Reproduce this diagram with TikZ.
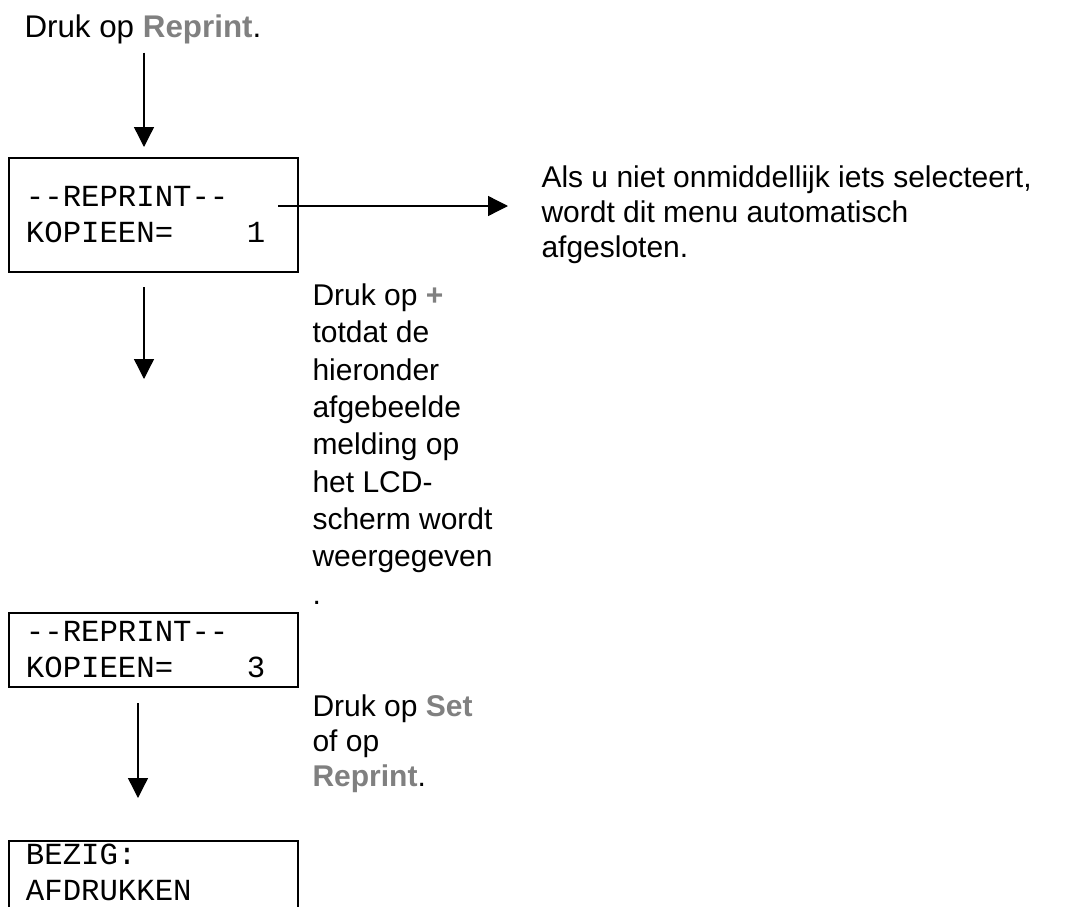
\documentclass[tikz,border=0pt]{standalone}
\usepackage{fontspec}
\setmainfont{Liberation Sans}
\setmonofont{Liberation Mono}
\usetikzlibrary{arrows.meta}
\definecolor{keygrey}{RGB}{128,128,128}
\newcommand{\btn}[1]{{\color{keygrey}\bfseries #1}}

\tikzset{every picture/.style={line width=0.75pt}}
\tikzset{
    lcd/.style={draw, line width=1.7pt, anchor=north west, outer sep=0pt, inner xsep=12.75pt, inner ysep=0pt, text width=191.25pt, align=left, font=\ttfamily\fontsize{23}{27}\selectfont},
    note/.style={anchor=base west, inner sep=0pt, align=left, font=\fontsize{22.5}{26.25}\selectfont},
    flow/.style={-{Triangle[length=15pt, width=15pt]}, line width=1pt}
}

\begin{document}
\begin{tikzpicture}[
            x=0.75pt,
            y=0.75pt,
            yscale=-1,
            xscale=1,
            every node/.style={text=black}
        ]
            \useasboundingbox (0,0) rectangle (1068,907);
            \clip (0,0) rectangle (1068,907);
            \node[note, font=\fontsize{23.5}{26.25}\selectfont] (title) at (24,37) {Druk op \btn{Reprint}.};
            \node[lcd, minimum height=85.5pt] (menu) at (9,158) {--REPRINT--\\KOPIEEN=\phantom{0000}1};
            \node[lcd, minimum height=55.5pt] (copies) at (9,613) {--REPRINT--\\KOPIEEN=\phantom{0000}3};
            \node[lcd, minimum height=55.5pt] (busy) at (9,841) {BEZIG:\\AFDRUKKEN\rule[-8pt]{0pt}{8pt}};
            \node[note] (timeout) at (541,257) {Als u niet onmiddellijk iets selecteert,\\wordt dit menu automatisch\\afgesloten.};
            \node[note, font=\fontsize{22.5}{28}\selectfont] (plus) at (312,604) {Druk op \btn{+}\\totdat de\\hieronder\\afgebeelde\\melding op\\het LCD-\\scherm wordt\\weergegeven\\.};
            \node[note] (confirm) at (312,786) {Druk op \btn{Set}\\of op\\\btn{Reprint}.};
            \coordinate (stem) at (144,0);
            \coordinate (pause) at (144,379);
            \coordinate (drop) at (138,0);
            \coordinate (tap) at (278,206);
            \draw[flow, shorten <=6.5pt, shorten >=8.25pt] (title.south -| stem) -- (menu.north -| stem);
            \draw[flow, shorten <=11.25pt] (menu.south -| pause) -- (pause);
            \draw[flow, shorten <=12pt, shorten >=32.25pt] (copies.south -| drop) -- (busy.north -| drop);
            \draw[flow, shorten >=24.75pt] (tap) -- (tap -| timeout.west);
        \end{tikzpicture}
\end{document}
